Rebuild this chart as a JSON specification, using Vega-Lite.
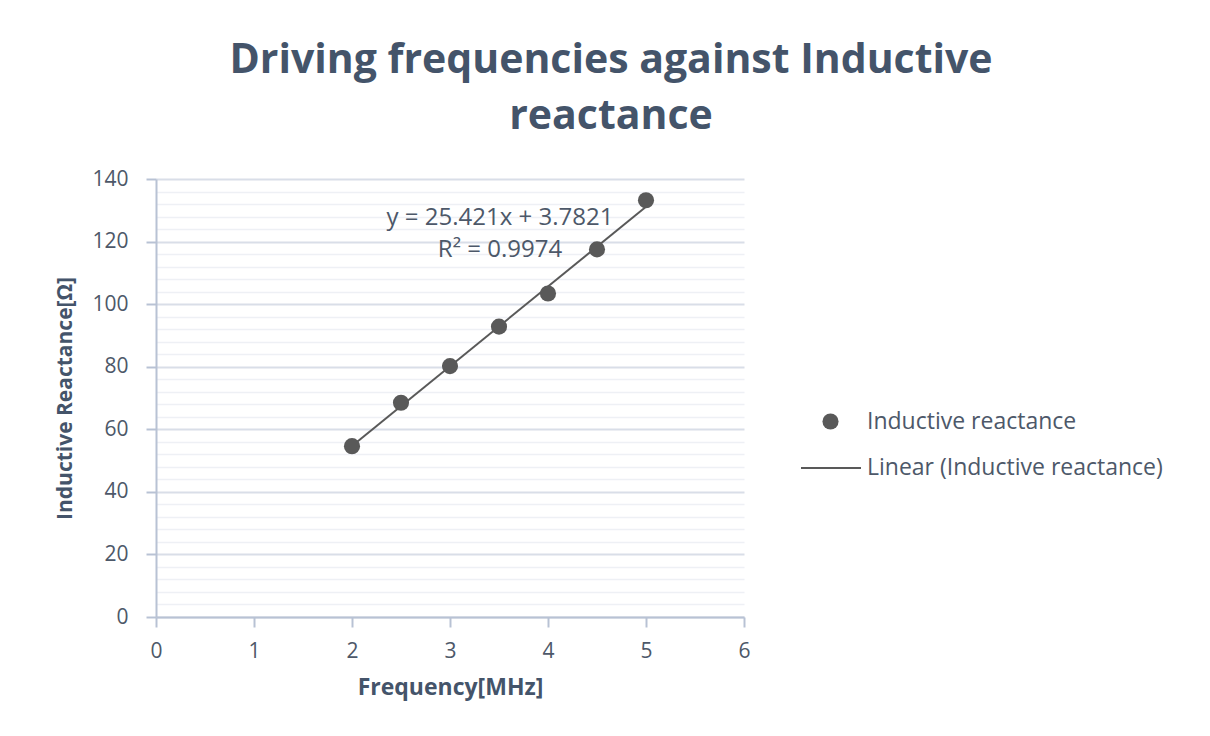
{
  "$schema": "https://vega.github.io/schema/vega-lite/v6.json",
  "width": 588,
  "height": 438,
  "autosize": {"type": "none"},
  "padding": {"left": 156, "top": 179, "right": 466, "bottom": 119},
  "background": "white",
  "config": {"view": {"stroke": null}, "font": "Open Sans"},
  "title": {
    "text": ["Driving frequencies against Inductive", "reactance"],
    "font": "Open Sans",
    "fontSize": 41,
    "fontWeight": "bold",
    "color": "#44546a",
    "anchor": "middle",
    "dx": 161,
    "offset": 30,
    "lineHeight": 56
  },
  "datasets": {
    "points": [
      {"frequency": 2, "reactance": 54.6},
      {"frequency": 2.5, "reactance": 68.5},
      {"frequency": 3, "reactance": 80.2},
      {"frequency": 3.5, "reactance": 92.8},
      {"frequency": 4, "reactance": 103.4},
      {"frequency": 4.5, "reactance": 117.5},
      {"frequency": 5, "reactance": 133.2}
    ],
    "labels": [
      {"frequency": 3.51, "reactance": 127.6, "text": "y = 25.421x + 3.7821"},
      {"frequency": 3.51, "reactance": 117.2, "text": "R² = 0.9974"}
    ]
  },
  "encoding": {
    "x": {
      "field": "frequency",
      "type": "quantitative",
      "scale": {"domain": [0, 6], "nice": false},
      "axis": {
        "title": "Frequency[MHz]",
        "values": [0, 1, 2, 3, 4, 5, 6],
        "grid": false,
        "labelFlush": false,
        "domainColor": "#b8c2d4",
        "domainWidth": 2,
        "tickColor": "#b8c2d4",
        "tickWidth": 2,
        "tickSize": 10,
        "labelFont": "Open Sans",
        "labelFontSize": 21,
        "labelColor": "#4d5869",
        "labelPadding": 13,
        "titleFont": "Open Sans",
        "titleFontSize": 23,
        "titleFontWeight": "bold",
        "titleColor": "#44546a",
        "titlePadding": 15
      }
    },
    "y": {
      "field": "reactance",
      "type": "quantitative",
      "scale": {"domain": [0, 140], "nice": false},
      "axis": {
        "title": "Inductive Reactance[Ω]",
        "values": [0, 4, 8, 12, 16, 20, 24, 28, 32, 36, 40, 44, 48, 52, 56, 60, 64, 68, 72, 76, 80, 84, 88, 92, 96, 100, 104, 108, 112, 116, 120, 124, 128, 132, 136, 140],
        "labelExpr": "datum.value % 20 === 0 ? datum.label : ''",
        "labelFlush": false,
        "grid": true,
        "gridColor": {"condition": {"test": "datum.value % 20 === 0", "value": "#d9dee8"}, "value": "#eef0f5"},
        "gridWidth": {"condition": {"test": "datum.value % 20 === 0", "value": 2}, "value": 1.5},
        "tickOpacity": {"condition": {"test": "datum.value % 20 === 0", "value": 1}, "value": 0},
        "domainColor": "#b8c2d4",
        "domainWidth": 2,
        "tickColor": "#b8c2d4",
        "tickWidth": 2,
        "tickSize": 10,
        "labelFont": "Open Sans",
        "labelFontSize": 21,
        "labelColor": "#4d5869",
        "labelPadding": 18,
        "titleFont": "Open Sans",
        "titleFontSize": 21,
        "titleFontWeight": "bold",
        "titleColor": "#44546a",
        "titlePadding": 16
      }
    }
  },
  "layer": [
    {
      "data": {"name": "points"},
      "transform": [{"regression": "reactance", "on": "frequency"}],
      "mark": {"type": "line", "strokeWidth": 2},
      "encoding": {
        "stroke": {
          "datum": "Linear (Inductive reactance)",
          "scale": {"range": ["#595959"]},
          "legend": {
            "title": null,
            "orient": "none",
            "legendX": 644,
            "legendY": 258,
            "padding": 0,
            "labelFont": "Open Sans",
            "labelFontSize": 23,
            "labelColor": "#4d5869",
            "labelLimit": 0,
            "labelOffset": 5,
            "symbolType": "stroke",
            "symbolSize": 3600,
            "symbolStrokeWidth": 2
          }
        }
      }
    },
    {
      "data": {"name": "points"},
      "mark": {"type": "circle", "opacity": 1, "size": 260},
      "encoding": {
        "fill": {
          "datum": "Inductive reactance",
          "scale": {"range": ["#595959"]},
          "legend": {
            "title": null,
            "orient": "none",
            "legendX": 663,
            "legendY": 231,
            "padding": 0,
            "labelFont": "Open Sans",
            "labelFontSize": 23,
            "labelColor": "#4d5869",
            "labelLimit": 0,
            "labelOffset": 25,
            "symbolType": "circle",
            "symbolSize": 260,
            "symbolOpacity": 1
          }
        }
      }
    },
    {
      "data": {"name": "labels"},
      "mark": {"type": "text", "font": "Open Sans", "fontSize": 24, "color": "#4d5869", "align": "center", "baseline": "middle"},
      "encoding": {"text": {"field": "text"}}
    }
  ]
}
